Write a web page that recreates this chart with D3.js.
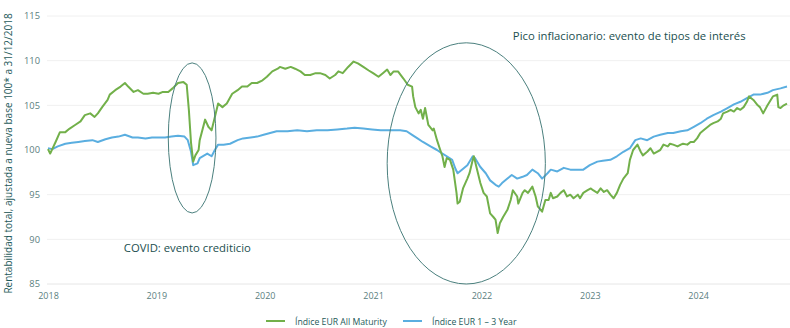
<!DOCTYPE html>
<html><head><meta charset="utf-8">
<script src="https://cdn.jsdelivr.net/npm/d3@7"></script>
<style>body{margin:0;background:#fff}svg{display:block;font-family:"Open Sans",sans-serif}</style>
</head><body><svg id="c" width="790" height="328"></svg>
<script>
// Dates as decimal years, values as index (base 100)
const greenDates=[2018.00,2018.02,2018.07,2018.11,2018.16,2018.20,2018.25,2018.30,2018.34,2018.39,2018.43,2018.46,2018.50,2018.55,2018.57,2018.62,2018.67,2018.71,2018.74,2018.79,2018.83,2018.88,2018.92,2018.97,2019.02,2019.06,2019.11,2019.15,2019.20,2019.25,2019.28,2019.30,2019.32,2019.34,2019.36,2019.39,2019.40,2019.45,2019.48,2019.51,2019.54,2019.57,2019.61,2019.65,2019.70,2019.75,2019.79,2019.84,2019.88,2019.93,2019.98,2020.02,2020.07,2020.12,2020.14,2020.19,2020.24,2020.28,2020.33,2020.37,2020.42,2020.47,2020.51,2020.56,2020.60,2020.65,2020.68,2020.72,2020.77,2020.82,2020.86,2020.91,2020.96,2021.00,2021.05,2021.09,2021.13,2021.16,2021.19,2021.23,2021.28,2021.32,2021.36,2021.37,2021.39,2021.42,2021.44,2021.46,2021.48,2021.51,2021.55,2021.56,2021.59,2021.62,2021.64,2021.66,2021.68,2021.71,2021.74,2021.77,2021.78,2021.80,2021.83,2021.87,2021.89,2021.92,2021.93,2021.96,2021.99,2022.02,2022.05,2022.08,2022.11,2022.13,2022.15,2022.17,2022.20,2022.24,2022.27,2022.29,2022.33,2022.34,2022.38,2022.40,2022.43,2022.47,2022.50,2022.52,2022.56,2022.59,2022.62,2022.64,2022.66,2022.70,2022.73,2022.76,2022.79,2022.82,2022.85,2022.89,2022.91,2022.94,2022.98,2023.01,2023.03,2023.07,2023.10,2023.13,2023.16,2023.19,2023.22,2023.25,2023.28,2023.31,2023.35,2023.37,2023.40,2023.44,2023.47,2023.49,2023.53,2023.56,2023.59,2023.62,2023.65,2023.68,2023.72,2023.74,2023.77,2023.81,2023.84,2023.86,2023.90,2023.93,2023.96,2023.99,2024.02,2024.05,2024.09,2024.11,2024.14,2024.18,2024.21,2024.23,2024.27,2024.30,2024.33,2024.36,2024.39,2024.42,2024.45,2024.47,2024.51,2024.55,2024.57,2024.60,2024.64,2024.67,2024.69,2024.73,2024.74,2024.76,2024.79,2024.82];
const greenValues=[100.1,99.6,100.9,102.0,102.0,102.4,102.8,103.2,103.9,104.1,103.7,104.1,104.8,105.6,106.2,106.7,107.1,107.5,107.1,106.5,106.7,106.3,106.3,106.4,106.3,106.5,106.5,106.9,107.5,107.6,107.3,104.5,100.8,98.7,99.4,100.0,101.1,103.4,102.6,102.2,103.7,105.2,104.8,105.2,106.3,106.7,107.1,107.1,107.5,107.5,107.8,108.2,108.8,109.1,109.3,109.1,109.3,109.1,108.8,108.4,108.4,108.6,108.6,108.4,108.0,108.4,108.8,108.6,109.3,109.9,109.7,109.3,108.9,108.6,108.2,108.6,109.0,108.4,108.8,108.8,108.0,107.3,107.1,106.0,104.8,104.1,104.5,103.5,104.7,102.8,102.2,102.4,101.1,100.0,99.3,98.1,99.1,98.9,97.8,95.2,94.0,94.2,95.7,96.8,97.4,98.9,99.3,97.8,96.3,95.2,94.8,92.9,92.5,92.2,90.7,91.8,92.5,93.3,94.4,95.5,94.8,94.0,95.2,95.5,95.2,95.9,94.8,93.7,93.1,94.4,94.4,95.2,94.6,94.8,95.2,95.5,94.8,95.0,94.6,95.0,94.6,95.2,95.5,95.7,95.5,95.2,95.7,95.3,95.5,95.0,94.6,95.2,96.1,96.8,97.4,98.9,100.0,100.6,99.8,99.4,99.8,100.2,99.6,99.8,100.0,100.6,100.4,100.7,100.6,100.4,100.6,100.7,100.6,100.9,100.9,101.3,101.9,102.2,102.6,102.8,103.0,103.2,103.5,104.1,104.3,104.5,104.3,104.7,104.5,104.8,105.4,106.0,105.6,105.0,104.8,104.1,105.0,105.6,106.0,106.2,104.8,104.7,105.0,105.2];
const blueDates=[2018.00,2018.04,2018.09,2018.16,2018.22,2018.28,2018.34,2018.41,2018.46,2018.53,2018.59,2018.65,2018.71,2018.78,2018.83,2018.90,2018.96,2019.02,2019.08,2019.14,2019.20,2019.26,2019.29,2019.32,2019.34,2019.38,2019.40,2019.47,2019.51,2019.54,2019.57,2019.62,2019.68,2019.75,2019.80,2019.87,2019.93,2019.99,2020.05,2020.11,2020.21,2020.30,2020.39,2020.48,2020.58,2020.67,2020.76,2020.83,2020.91,2020.99,2021.07,2021.16,2021.25,2021.31,2021.36,2021.41,2021.46,2021.53,2021.59,2021.64,2021.68,2021.73,2021.76,2021.78,2021.82,2021.87,2021.92,2021.94,2021.99,2022.04,2022.08,2022.13,2022.16,2022.19,2022.24,2022.28,2022.33,2022.38,2022.42,2022.47,2022.52,2022.56,2022.61,2022.64,2022.70,2022.76,2022.82,2022.88,2022.94,2023.00,2023.07,2023.12,2023.19,2023.25,2023.31,2023.37,2023.42,2023.47,2023.53,2023.59,2023.65,2023.72,2023.77,2023.84,2023.90,2023.96,2024.02,2024.08,2024.14,2024.21,2024.27,2024.33,2024.39,2024.45,2024.51,2024.57,2024.64,2024.69,2024.76,2024.82];
const blueValues=[100.2,100.1,100.4,100.7,100.8,100.9,101.0,101.1,100.9,101.2,101.4,101.5,101.7,101.4,101.4,101.3,101.4,101.4,101.4,101.5,101.6,101.5,101.1,99.8,98.3,98.5,99.1,99.6,99.3,100.0,100.6,100.6,100.7,101.1,101.3,101.4,101.5,101.7,101.9,102.1,102.1,102.2,102.1,102.2,102.2,102.3,102.4,102.5,102.4,102.3,102.2,102.2,102.2,102.1,101.7,101.3,100.9,100.4,100.0,99.6,99.3,98.9,97.9,97.4,97.8,98.3,99.3,99.1,98.1,97.4,96.6,96.1,95.9,96.3,96.8,97.2,96.8,97.0,97.2,97.8,97.4,96.8,97.4,97.8,97.6,98.0,97.8,97.8,97.8,98.3,98.7,98.8,98.9,99.3,99.8,100.2,101.1,101.3,101.1,101.5,101.7,101.9,101.9,102.1,102.2,102.6,103.0,103.5,103.9,104.3,104.7,105.1,105.4,105.8,106.2,106.2,106.4,106.7,106.9,107.1];
const yTicks=[85,90,95,100,105,110,115];
const xTickYears=[2018,2019,2020,2021,2022,2023,2024];
const seriesNames=["Índice EUR All Maturity","Índice EUR 1 – 3 Year"];
const seriesColors=["#72b04a","#5aaee0"];
const yTitle="Rentabilidad total, ajustada a nueva base 100* a 31/12/2018";
const annotations=[{text:"COVID: evento crediticio",year:2018.70,value:88.6},{text:"Pico inflacionario: evento de tipos de interés",year:2022.29,value:112.3}];
const ellipses=[{year:2019.33,value:101.35,ryears:0.22,rvalue:8.4},{year:2021.86,value:98.5,ryears:0.73,rvalue:13.5}];

const svg=d3.select("#c");
const x=d3.scaleLinear().domain([2018,2024.82]).range([48,787]);
const y=d3.scaleLinear().domain([85,115]).range([284,16]);

// grid
svg.append("g").selectAll("line").data(yTicks).join("line")
  .attr("x1",47).attr("x2",790).attr("y1",d=>y(d)).attr("y2",d=>y(d))
  .attr("stroke",d=>d===85?"#e6e6e6":"#f0f0f0").attr("stroke-width",1);

// y axis labels
const ya=svg.append("g").attr("transform","translate(40,0)").call(d3.axisLeft(y).tickValues(yTicks).tickSize(0).tickPadding(0));
ya.select(".domain").remove();
ya.selectAll("text").attr("fill","#5b8080").attr("font-size",9.3).attr("font-family","Open Sans, sans-serif");

// x axis labels
const xa=svg.append("g").attr("transform","translate(0,293)").call(d3.axisBottom(x).tickValues(xTickYears).tickFormat(d3.format("d")).tickSize(0).tickPadding(0));
xa.select(".domain").remove();
xa.selectAll("text").attr("fill","#5b8080").attr("font-size",9).attr("font-family","Open Sans, sans-serif");

// y title
svg.append("text").attr("transform","translate(11.5,153.5) rotate(-90)").attr("text-anchor","middle")
  .attr("fill","#1e5a5a").attr("font-size",10).text(yTitle);

// lines
const line=d3.line().x(d=>x(d[0])).y(d=>y(d[1]));
svg.append("path").datum(blueDates.map((d,i)=>[d,blueValues[i]])).attr("d",line)
  .attr("fill","none").attr("stroke",seriesColors[1]).attr("stroke-width",2).attr("stroke-linejoin","round");
svg.append("path").datum(greenDates.map((d,i)=>[d,greenValues[i]])).attr("d",line)
  .attr("fill","none").attr("stroke",seriesColors[0]).attr("stroke-width",2).attr("stroke-linejoin","round");

// ellipses
svg.append("g").selectAll("ellipse").data(ellipses).join("ellipse")
  .attr("cx",d=>x(d.year)).attr("cy",d=>y(d.value))
  .attr("rx",d=>x(d.year+d.ryears)-x(d.year)).attr("ry",d=>y(d.value-d.rvalue)-y(d.value))
  .attr("fill","none").attr("stroke","#4b807e").attr("stroke-width",1);

// annotations
svg.append("g").selectAll("text").data(annotations).join("text")
  .attr("x",d=>x(d.year)).attr("y",d=>y(d.value)).attr("fill","#1b4f4f").attr("font-size",11.3).text(d=>d.text);

// legend
const lg=svg.append("g");
const legX=[266,403];
seriesNames.forEach((n,i)=>{
  lg.append("line").attr("x1",legX[i]).attr("x2",legX[i]+19).attr("y1",321).attr("y2",321).attr("stroke",seriesColors[i]).attr("stroke-width",2);
  lg.append("text").attr("x",legX[i]+29).attr("y",324.5).attr("fill","#1e5a5a").attr("font-size",8.7).text(n);
});
</script></body></html>
